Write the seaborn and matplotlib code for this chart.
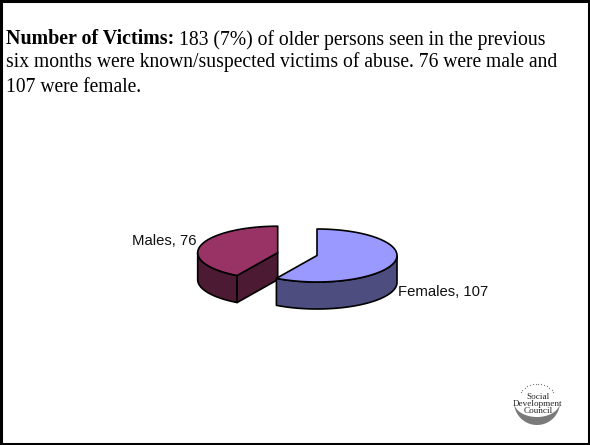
import numpy as np
import matplotlib
matplotlib.use("Agg")
import matplotlib.pyplot as plt
from matplotlib import font_manager as fm
from matplotlib.patches import Polygon, Rectangle
import seaborn as sns

# ---- data ----
labels = ["Females", "Males"]
values = [107, 76]
top_colors = ["#9999FF", "#993366"]
side_colors = ["#4D4D80", "#4D1A33"]

bold_text = "Number of Victims:"
line1_rest = "183 (7%) of older persons seen in the previous"
line2 = "six months were known/suspected victims of abuse. 76 were male and"
line3 = "107 were female."
logo_lines = ["Social", "Development", "Council"]

sns.set_theme(style="white")
names = {f.name for f in fm.fontManager.ttflist}
narrow = "Liberation Sans Narrow" if "Liberation Sans Narrow" in names else "Liberation Sans"
label_fs = 13 if narrow.endswith("Narrow") else 10.7

fig = plt.figure(figsize=(5.9, 4.45), dpi=100, facecolor="white")
ax = fig.add_axes([0, 0, 1, 1])
ax.set_xlim(0, 590)
ax.set_ylim(445, 0)
ax.axis("off")

# frame
ax.add_patch(Rectangle((1, 1), 588, 443, fill=False, ec="black", lw=2.2, zorder=1))

# header text
serif = "Liberation Serif"
fs = 14.15
ax.text(6, 44.5, bold_text, family=serif, weight="bold", fontsize=14.45, color="black", va="baseline")
ax.text(179, 44.5, line1_rest, family=serif, fontsize=fs, color="black", va="baseline")
ax.text(6, 67.5, line2, family=serif, fontsize=fs, color="black", va="baseline")
ax.text(6, 91.5, line3, family=serif, fontsize=fs, color="black", va="baseline")

# pseudo 3-D pie, angles derived from the values
a, b, depth = 80, 26.5, 27
total = sum(values)
sweeps = [v / total * 360 for v in values]
starts = [90, 90]
dirs = [-1, 1]
centers = [(317, 255.5), (277.7, 252.7)]


def pt(c, deg, dz=0):
    r = np.radians(deg)
    return np.column_stack([c[0] + a * np.cos(r), c[1] - b * np.sin(r) + dz])


for i in [1, 0]:
    c = centers[i]
    angs = np.linspace(starts[i], starts[i] + dirs[i] * sweeps[i], 200)
    rim = pt(c, angs)
    kw = dict(ec="black", lw=1.2, joinstyle="round", zorder=3 + (1 - i))
    # visible outer wall (lower half of the ellipse)
    front = angs[np.sin(np.radians(angs)) <= 0]
    wall = np.vstack([pt(c, front), pt(c, front[::-1], depth)])
    ax.add_patch(Polygon(wall, closed=True, fc=side_colors[i], **kw))
    if i == 1:
        # exposed cut face of the left slice
        end = rim[-1]
        face = np.array([c, end, end + [0, depth], np.array(c) + [0, depth]])
        ax.add_patch(Polygon(face, closed=True, fc=side_colors[i], **kw))
    # top surface
    ax.add_patch(Polygon(np.vstack([[c], rim]), closed=True, fc=top_colors[i], **kw))

ax.text(398, 296, f"{labels[0]}, {values[0]}", family=[narrow, "DejaVu Sans"],
        fontsize=label_fs, color="#111111", va="baseline", ha="left")
ax.text(132, 245, f"{labels[1]}, {values[1]}", family=[narrow, "DejaVu Sans"],
        fontsize=label_fs, color="#111111", va="baseline", ha="left")

# logo
lc = (537, 402)
th = np.radians(np.linspace(190, 350, 80))
outer = np.column_stack([lc[0] + 23 * np.cos(th), lc[1] - 23 * np.sin(th)])
inner = np.column_stack([lc[0] + 23 * np.cos(th[::-1]), lc[1] - 15 * np.sin(th[::-1])])
ax.add_patch(Polygon(np.vstack([outer, inner]), closed=True, fc="#7a7a7a", ec="none", zorder=2))
th2 = np.radians(np.linspace(35, 145, 14))
ax.scatter(lc[0] + 20 * np.cos(th2), lc[1] - 18 * np.sin(th2), s=0.8, color="#777777", lw=0, zorder=2)
for s, y in zip(logo_lines, [397, 404, 411]):
    ax.text(538, y, s, family=serif, fontsize=6.6, color="#222222", ha="center", va="center", zorder=4)

fig.savefig("out.png", dpi=100, facecolor="white")
